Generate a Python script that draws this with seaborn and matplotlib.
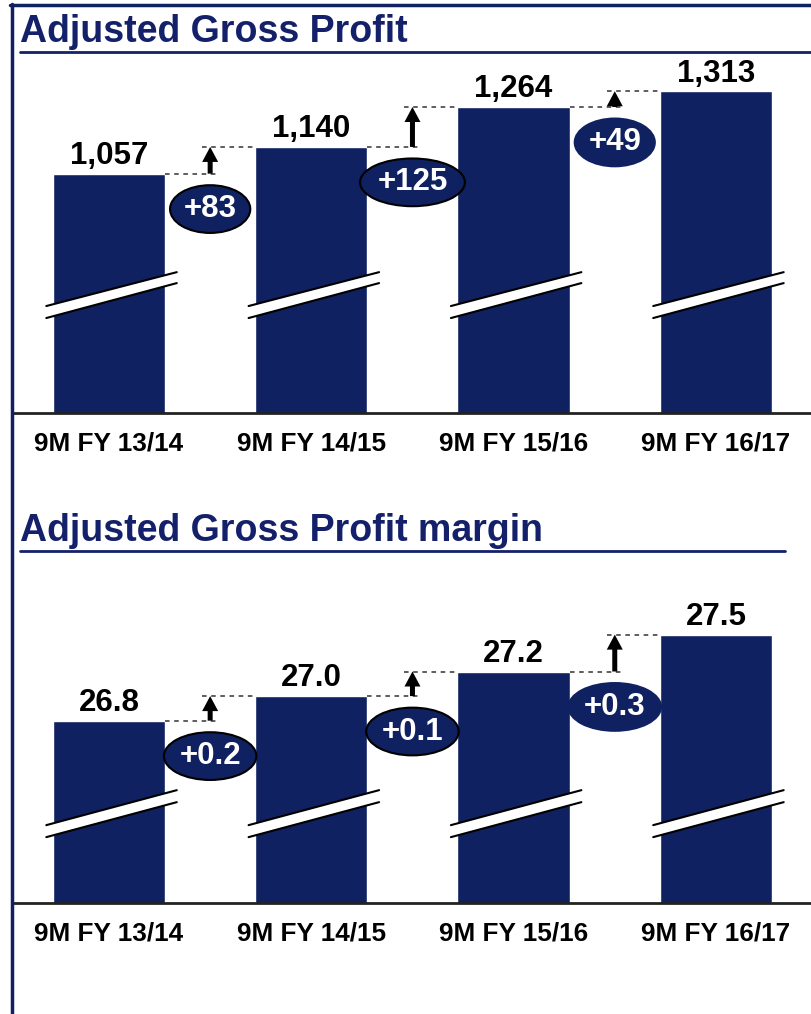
import pandas as pd
import matplotlib.pyplot as plt
import matplotlib.transforms as mtransforms
from matplotlib.lines import Line2D
from matplotlib.patches import Polygon
import seaborn as sns

# --- Data ---
periods = ['9M FY 13/14', '9M FY 14/15', '9M FY 15/16', '9M FY 16/17']
gross_profit = [1057, 1140, 1264, 1313]
gross_profit_labels = ['1,057', '1,140', '1,264', '1,313']
gross_profit_deltas = ['+83', '+125', '+49']
gp_margin = [26.8, 27.0, 27.2, 27.5]
gp_margin_labels = ['26.8', '27.0', '27.2', '27.5']
gp_margin_deltas = ['+0.2', '+0.1', '+0.3']

NAVY = '#0F2160'
TITLE_COL = '#14216A'
W, H = 811, 1014

sns.set_theme(style='white')
plt.rcParams['font.family'] = ['Liberation Sans', 'DejaVu Sans']
plt.rcParams['font.weight'] = 'bold'

fig = plt.figure(figsize=(W / 100, H / 100), dpi=100, facecolor='white')


def px_box(left, top, right, bottom):
    # pixel box (from top-left) -> figure fraction rect
    return [left / W, 1 - bottom / H, (right - left) / W, (bottom - top) / H]


def draw_panel(ax, values, labels, deltas, ylim, brk, edge_cols):
    df = pd.DataFrame({'period': periods, 'value': values})
    sns.barplot(data=df, x='period', y='value', color=NAVY, saturation=1,
                width=0.555, ax=ax, zorder=2)
    ax.set_xlim(-0.4795, 3.47)
    ax.set_ylim(*ylim)
    ax.set_xlabel('')
    ax.set_ylabel('')
    ax.set_yticks([])
    ax.tick_params(axis='x', length=0, pad=13, labelsize=18.8, labelcolor='black')
    for s in ['top', 'right', 'left']:
        ax.spines[s].set_visible(False)
    ax.spines['bottom'].set_color('#222222')
    ax.spines['bottom'].set_linewidth(2)

    # pixel sizes -> data units
    p0 = ax.transData.transform((0, 0))
    p1 = ax.transData.transform((1, 1))
    ppx, ppy = p1[0] - p0[0], p1[1] - p0[1]
    half = 0.2775

    # axis break marks
    trans = mtransforms.blended_transform_factory(ax.transData, ax.transAxes)
    for i in range(len(values)):
        l, r = i - 0.31, i + 0.335
        poly = Polygon([(l, brk[0]), (r, brk[1]), (r, brk[3]), (l, brk[2])],
                       closed=True, fc='white', ec='none', transform=trans, zorder=3)
        ax.add_patch(poly)
        ax.plot([l, r], [brk[0], brk[1]], color='black', lw=1.5, transform=trans, zorder=4)
        ax.plot([l, r], [brk[2], brk[3]], color='black', lw=1.5, transform=trans, zorder=4)

    # value labels
    for i, (v, lbl) in enumerate(zip(values, labels)):
        ax.annotate(lbl, xy=(i, v), xytext=(0, 7), textcoords='offset points',
                    ha='center', va='baseline', fontsize=22.5, fontweight='bold',
                    color='black', zorder=5)

    # step lines, arrows and delta bubbles
    for i, d in enumerate(deltas):
        lo, hi = values[i], values[i + 1]
        xm = i + 0.5
        ax.plot([i + half, xm + 0.04], [lo, lo], color='#333333', lw=1.1,
                ls=(0, (3, 3)), zorder=2)
        ax.plot([xm - 0.04, i + 1 - half], [hi, hi], color='#333333', lw=1.1,
                ls=(0, (3, 3)), zorder=2)
        ax.arrow(xm, lo, 0, hi - lo, width=5 / ppx, head_width=16 / ppx,
                 head_length=15 / ppy, length_includes_head=True,
                 color='black', lw=0, zorder=4)
        ax.annotate(d, xy=(xm, lo), xytext=(0, -25.5), textcoords='offset points',
                    ha='center', va='center', fontsize=22.5, fontweight='bold',
                    color='white', zorder=6,
                    bbox=dict(boxstyle='ellipse,pad=0.06', fc=NAVY,
                              ec=edge_cols[i], lw=1.5))


ax1 = fig.add_axes(px_box(12, 60, 811, 413))
draw_panel(ax1, gross_profit, gross_profit_labels, gross_profit_deltas,
           (313.6, 1410), (0.303, 0.399, 0.269, 0.368), ['black', 'black', NAVY])

ax2 = fig.add_axes(px_box(12, 560, 811, 903))
draw_panel(ax2, gp_margin, gp_margin_labels, gp_margin_deltas,
           (25.317, 28.107), (0.227, 0.329, 0.192, 0.294), ['black', 'black', NAVY])

# --- Titles, underlines and frame ---
fig.text(20 / W, 1 - 42 / H, 'Adjusted Gross Profit', fontsize=27,
         fontweight='bold', color=TITLE_COL, ha='left', va='baseline')
fig.text(20 / W, 1 - 541 / H, 'Adjusted Gross Profit margin', fontsize=27,
         fontweight='bold', color=TITLE_COL, ha='left', va='baseline')
fig.add_artist(Line2D([20 / W, 1], [1 - 52 / H] * 2, color=TITLE_COL, lw=2))
fig.add_artist(Line2D([20 / W, 785 / W], [1 - 551 / H] * 2, color=TITLE_COL, lw=2))
fig.add_artist(Line2D([10 / W, 1], [1 - 5 / H] * 2, color=NAVY, lw=2.5))
fig.add_artist(Line2D([12 / W] * 2, [1 - 4 / H, 0], color=NAVY, lw=2.5))

fig.savefig('out.png', dpi=100)
